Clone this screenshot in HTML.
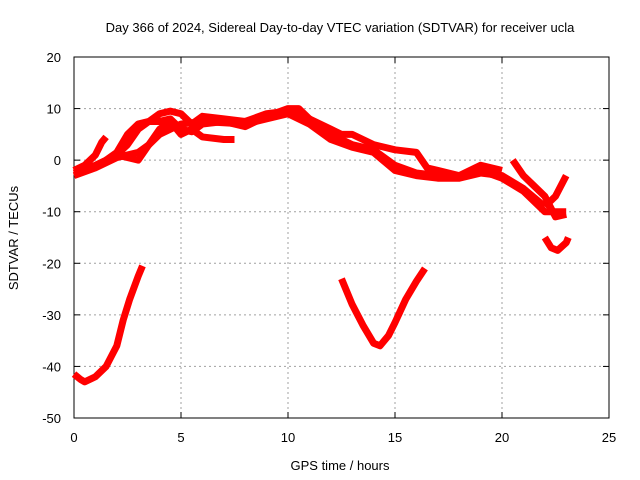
<!DOCTYPE html>
<html><head><meta charset="utf-8"><style>
body{margin:0;background:#fff;}
svg{display:block;font-family:"Liberation Sans",sans-serif;}
</style></head><body>
<svg id="chart" width="640" height="480">
<rect width="640" height="480" fill="#fff"/>
<text x="340" y="32" font-size="13" text-anchor="middle">Day 366 of 2024, Sidereal Day-to-day VTEC variation (SDTVAR) for receiver ucla</text>
<text x="340" y="470" font-size="13" text-anchor="middle">GPS time / hours</text>
<text transform="translate(18,238) rotate(-90)" font-size="13" text-anchor="middle">SDTVAR / TECUs</text>
<g id="grid"></g><g id="axes"></g><g id="series"></g>
</svg>
<script>
const xTicks=[0,5,10,15,20,25];
const yTicks=[20,10,0,-10,-20,-30,-40,-50];
const trackArcHours=[0,0.3,0.5,1,1.5,2,2.3,2.6,3,3.2];
const trackArcVals=[-41.5,-42.5,-43,-42,-40,-36,-31,-27,-22.5,-20.5];
const trackVHours=[12.5,13,13.5,14,14.3,14.7,15,15.5,16,16.4];
const trackVVals=[-23,-28,-32,-35.5,-36,-34,-31.5,-27,-23.5,-21];
const trackEndHours=[22,22.3,22.6,23,23.1];
const trackEndVals=[-15,-17,-17.5,-16,-15];
const trackAHours=[0,0.5,1,1.3,1.5];
const trackAVals=[-2,-1,1,3.5,4.5];
const trackBHours=[0,1,1.5,2,2.5,3,3.5,4,4.5,5,5.5,6,7,8,9,10,10.5,11,12,13,14,15,16,17,18,19,20,21,22,22.5,23];
const trackBVals=[-2.5,-1,0,1,3,6,7.5,7.5,8,6,5.5,7,7.5,6.5,8.5,10,10,8,5,3,2,-1,-2.5,-3,-3,-2,-3.5,-6,-10,-10,-10];
const trackCHours=[1.5,2,2.5,3,3.5,4,4.5,5,5.5,6,7,8,9,10,11,12,12.5,13,13.5,14,15,16,16.5,17,18,19,20];
const trackCVals=[0,1.5,5,7,7.5,9,9.5,9,7,8.5,8,7.5,9,9.5,8,6,5,5,4,3,2,1.5,-1.5,-2,-3,-1,-2];
const trackDHours=[2,3,3.5,4,4.5,5,5.5,6,7,7.5];
const trackDVals=[1,0,3,6,7.5,5,6,4.5,4,4];
const trackGHours=[0,1,2,3,3.5,4,5,6,8,9,10,11,12,13,14,15,16,17,18,19,20,21,22];
const trackGVals=[-3,-1.5,0.5,1.5,3,5,7,7.5,7,8,9,7,4,2.5,1.5,-2,-3,-3.5,-3.5,-2.5,-3,-5.5,-9];
const trackEHours=[20.5,21,21.5,22,22.5,23];
const trackEVals=[0,-3,-5,-7,-11,-10.5];
const trackFHours=[22,22.5,23];
const trackFVals=[-9,-7,-3];

const X0=74,X1=609,Y0=57,Y1=418;
const xs=v=>X0+(v-0)/25*(X1-X0);
const ys=v=>Y0+(20-v)/70*(Y1-Y0);
const NS="http://www.w3.org/2000/svg";
function mk(t,a,p){const e=document.createElementNS(NS,t);for(const k in a)e.setAttribute(k,a[k]);p.appendChild(e);return e;}
const grid=document.getElementById('grid'),axes=document.getElementById('axes'),ser=document.getElementById('series');
xTicks.forEach(t=>{const x=xs(t);
 if(t>0&&t<25){const g=mk('line',{x1:x,x2:x,y1:Y0,y2:Y1,stroke:'#a0a0a0','stroke-dasharray':'2,3'},grid);
 
 }
 mk('line',{x1:x,x2:x,y1:Y1,y2:Y1-6,stroke:'#000'},axes);
 mk('line',{x1:x,x2:x,y1:Y0,y2:Y0+6,stroke:'#000'},axes);
 const l=mk('text',{x:x,y:Y1+24,'font-size':13,'text-anchor':'middle'},axes);l.textContent=t;
 
 });
yTicks.forEach(t=>{const y=ys(t);
 if(t>-50&&t<20){const g=mk('line',{x1:X0,x2:X1,y1:y,y2:y,stroke:'#a0a0a0','stroke-dasharray':'2,3'},grid);
 
 }
 mk('line',{x1:X0,x2:X0+6,y1:y,y2:y,stroke:'#000'},axes);
 mk('line',{x1:X1,x2:X1-6,y1:y,y2:y,stroke:'#000'},axes);
 const l=mk('text',{x:X0-13,y:y+5,'font-size':13,'text-anchor':'end'},axes);l.textContent=t;
 
 });
const fr=mk('rect',{x:X0,y:Y0,width:X1-X0,height:Y1-Y0,fill:'none',stroke:'#000'},axes);


const tracks=[[trackArcHours,trackArcVals],[trackVHours,trackVVals],[trackEndHours,trackEndVals],[trackAHours,trackAVals],[trackBHours,trackBVals],[trackCHours,trackCVals],[trackDHours,trackDVals],[trackGHours,trackGVals],[trackEHours,trackEVals],[trackFHours,trackFVals]];
tracks.forEach(([h,v])=>{const pts=h.map((t,i)=>xs(t)+','+ys(v[i])).join(' ');
 const p=mk('polyline',{points:pts,fill:'none',stroke:'#ff0000','stroke-width':7,'stroke-linejoin':'round','stroke-linecap':'butt'},ser);
 
 });
</script>
</body></html>
